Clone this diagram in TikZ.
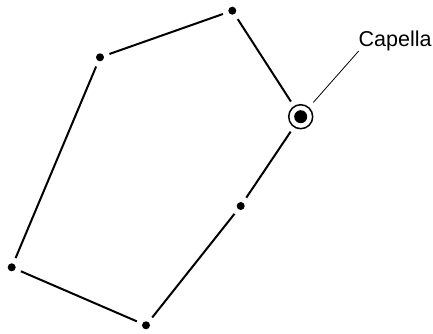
\documentclass[tikz,border=0pt]{standalone}
\usepackage{fontspec}
\setmainfont{Liberation Sans}
\begin{document}
\begin{tikzpicture}[x=1pt,y=-1pt,
  dot/.style={circle,fill=black,inner sep=0pt,outer sep=0pt,minimum size=8pt},
  star/.style={circle,draw=black,line width=1.5pt,fill=white,inner sep=0pt,outer sep=0pt,minimum size=24pt,
    path picture={\fill[black] (path picture bounding box.center) circle (6.5pt);}},
  seg/.style={line width=2pt,shorten <=6pt,shorten >=6pt},
  lbl/.style={font=\fontsize{21.5}{24}\selectfont,inner sep=0pt,anchor=base west}]
\useasboundingbox (0,0) rectangle (433,333);
\node[dot] (a) at (232.3,10.7) {};
\node[dot] (b) at (100,57.3) {};
\node[dot] (c) at (11.7,267.3) {};
\node[dot] (d) at (146,325.3) {};
\node[dot] (e) at (240.7,206) {};
\node[star] (f) at (300.7,116.7) {};
\node[lbl] (t) at (358.5,46) {Capella};
\coordinate (tend) at (358.7,51);
\draw[seg] (a) -- (b);
\draw[seg] (b) -- (c);
\draw[seg] (c) -- (d);
\draw[seg] (d) -- (e);
\draw[seg] (e) -- (f);
\draw[seg] (f) -- (a);
\draw[line width=0.8pt,shorten <=7pt] (f) -- (tend);
\end{tikzpicture}
\end{document}
